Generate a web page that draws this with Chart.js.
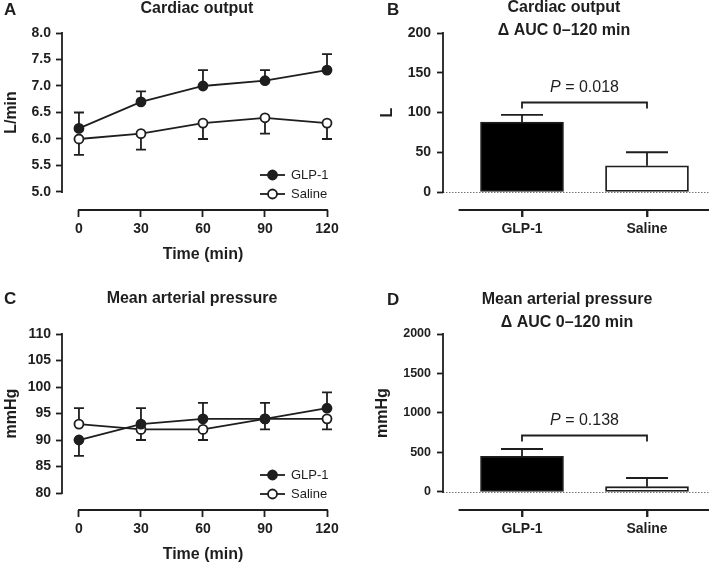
<!DOCTYPE html>
<html>
<head>
<meta charset="utf-8">
<script src="https://cdn.jsdelivr.net/npm/chart.js@4.4.1/dist/chart.umd.min.js"></script>
<style>
  html, body { margin: 0; padding: 0; background: #fff; }
  #wrap { position: relative; width: 709px; height: 564px; }
  canvas { position: absolute; }
</style>
</head>
<body>
<div id="wrap">
  <canvas id="cA" width="355" height="282" style="left:0;top:0"></canvas>
  <canvas id="cB" width="354" height="282" style="left:355px;top:0"></canvas>
  <canvas id="cC" width="355" height="282" style="left:0;top:282px"></canvas>
  <canvas id="cD" width="354" height="282" style="left:355px;top:282px"></canvas>
</div>
<script>
// data
const times = [0, 30, 60, 90, 120];
const groups = ['GLP-1', 'Saline'];

// tick values
const coTicks = [5.0, 5.5, 6.0, 6.5, 7.0, 7.5, 8.0];
const coAucTicks = [0, 50, 100, 150, 200];
const mapTicks = [80, 85, 90, 95, 100, 105, 110];
const mapAucTicks = [0, 500, 1000, 1500, 2000];

// cardiac output (L/min), mean and SEM; dir = which way the error bar is drawn
const coGlp = [6.2, 6.7, 7.0, 7.1, 7.3];
const coGlpSem = [0.3, 0.2, 0.3, 0.2, 0.3];
const coGlpDir = [1, 1, 1, 1, 1];
const coSal = [6.0, 6.1, 6.3, 6.4, 6.3];
const coSalSem = [0.3, 0.3, 0.3, 0.3, 0.3];
const coSalDir = [-1, -1, -1, -1, -1];
const coAuc = [88, 33];
const coAucSem = [9, 17];

// mean arterial pressure (mmHg)
const mapGlp = [90, 93, 94, 94, 96];
const mapGlpSem = [3, 3, 3, 3, 3];
const mapGlpDir = [-1, 1, 1, 1, 1];
const mapSal = [93, 92, 92, 94, 94];
const mapSalSem = [3, 2, 2, 2, 2];
const mapSalDir = [1, -1, -1, -1, -1];
const mapAuc = [452, 67];
const mapAucSem = [92, 110];

const FONT = "'Liberation Sans', Arial, sans-serif";
const INK = '#1e1e1e';

function drawErrors(chart, errors, cap) {
  const ctx = chart.ctx;
  const y = chart.scales.y;
  ctx.save();
  ctx.strokeStyle = INK;
  ctx.lineWidth = 1.8;
  errors.forEach((e, i) => {
    const meta = chart.getDatasetMeta(i);
    const data = chart.data.datasets[i].data;
    data.forEach((d, j) => {
      const px = meta.data[j].x;
      const p0 = y.getPixelForValue(d.y);
      const p1 = y.getPixelForValue(d.y + e.dir[j] * e.sem[j]);
      ctx.beginPath();
      ctx.moveTo(px, p0);
      ctx.lineTo(px, p1);
      ctx.moveTo(px - cap, p1);
      ctx.lineTo(px + cap, p1);
      ctx.stroke();
    });
  });
  ctx.restore();
}

function text(ctx, str, x, y, size, weight, align) {
  ctx.font = weight + ' ' + size + 'px ' + FONT;
  ctx.textAlign = align || 'center';
  ctx.textBaseline = 'middle';
  ctx.fillText(str, x, y);
}

const decor = {
  id: 'decor',
  beforeDatasetsDraw(chart, args, o) {
    const ctx = chart.ctx;
    if (o.zeroLine) {
      const py = Math.round(chart.scales.y.getPixelForValue(0)) + 0.5;
      ctx.save();
      ctx.strokeStyle = '#777';
      ctx.lineWidth = 1;
      ctx.setLineDash([1.5, 1.5]);
      ctx.beginPath();
      ctx.moveTo(chart.chartArea.left, py);
      ctx.lineTo(chart.width, py);
      ctx.stroke();
      ctx.restore();
    }
    if (chart.config.type === 'line') drawErrors(chart, o.errors, 5);
  },
  afterDatasetsDraw(chart, args, o) {
    if (chart.config.type === 'bar') drawErrors(chart, o.errors, 21);
  },
  afterDraw(chart, args, o) {
    const ctx = chart.ctx;
    const {x, y} = chart.scales;
    const area = chart.chartArea;
    ctx.save();
    ctx.strokeStyle = INK;
    ctx.fillStyle = INK;
    ctx.lineWidth = 1.8;
    ctx.lineCap = 'square';

    // truncated axis lines
    const yTop = y.getPixelForValue(o.yAxis[1]);
    const yBot = y.getPixelForValue(o.yAxis[0]);
    ctx.beginPath();
    ctx.moveTo(area.left, yTop);
    ctx.lineTo(area.left, yBot);
    ctx.moveTo(x.getPixelForValue(o.xAxis[0]), area.bottom);
    ctx.lineTo(x.getPixelForValue(o.xAxis[1]), area.bottom);
    ctx.stroke();
    ctx.lineCap = 'butt';

    // category tick marks under the bars
    if (chart.config.type === 'bar') {
      ctx.beginPath();
      x.ticks.forEach((t, i) => {
        const px = x.getPixelForTick(i);
        ctx.moveTo(px, area.bottom);
        ctx.lineTo(px, area.bottom + 7);
      });
      ctx.stroke();
    }

    // panel letter and title
    text(ctx, o.letter, o.letterX, o.letterY, 17, 'bold', 'left');
    o.title.forEach((t, i) => text(ctx, t, o.titleX, o.titleY + i * 23, 16, 'bold'));

    // axis titles
    ctx.save();
    ctx.translate(o.yTitleX, (yTop + yBot) / 2);
    ctx.rotate(-Math.PI / 2);
    text(ctx, o.yTitle, 0, 0, 16, 'bold');
    ctx.restore();
    if (o.xTitle) {
      const cx = (x.getPixelForValue(o.xAxis[0]) + x.getPixelForValue(o.xAxis[1])) / 2;
      text(ctx, o.xTitle, cx, area.bottom + 45, 16, 'bold');
    }

    // legend: line + marker, styled from the datasets
    if (o.legend) {
      chart.data.datasets.forEach((ds, i) => {
        const ly = area.bottom - 35 + i * 19;
        const lx = area.right - 67;
        ctx.lineWidth = 1.8;
        ctx.beginPath();
        ctx.moveTo(lx, ly);
        ctx.lineTo(lx + 25, ly);
        ctx.stroke();
        ctx.beginPath();
        ctx.arc(lx + 12.5, ly, 4.5, 0, Math.PI * 2);
        ctx.fillStyle = ds.pointBackgroundColor;
        ctx.fill();
        ctx.stroke();
        ctx.fillStyle = INK;
        text(ctx, ds.label, lx + 31, ly, 13, 'normal', 'left');
      });
    }

    // significance bracket
    if (o.bracket) {
      const b = o.bracket;
      const x0 = x.getPixelForValue(0);
      const x1 = x.getPixelForValue(1);
      const by = Math.round(y.getPixelForValue(b.at)) + 0.5;
      ctx.lineWidth = 1.8;
      ctx.beginPath();
      ctx.moveTo(x0, by + 6);
      ctx.lineTo(x0, by);
      ctx.lineTo(x1, by);
      ctx.lineTo(x1, by + 6);
      ctx.stroke();
      const rest = ' = ' + b.p;
      ctx.font = 'italic 16px ' + FONT;
      const wP = ctx.measureText('P').width;
      ctx.font = '16px ' + FONT;
      const wR = ctx.measureText(rest).width;
      const sx = (x0 + x1) / 2 - (wP + wR) / 2;
      text(ctx, 'P', sx, by - 15, 16, 'italic', 'left');
      text(ctx, rest, sx + wP, by - 15, 16, 'normal', 'left');
    }
    ctx.restore();
  }
};

function tickFont(size) {
  return { family: FONT, size: size, weight: 'bold' };
}

function grid(len) {
  return { offset: false, drawOnChartArea: false, drawTicks: true, tickLength: len, tickColor: INK, tickWidth: 1.8 };
}

function fixedTicks(values) {
  return s => { s.ticks = values.map(v => ({ value: v })); };
}

function baseOptions(canvas, box, xScale, yScale, decorOpts) {
  return {
    responsive: false,
    animation: false,
    events: [],
    layout: { padding: { left: 0, top: box.top, right: canvas.width - box.right, bottom: 0 } },
    plugins: { legend: { display: false }, tooltip: { enabled: false }, decor: decorOpts },
    scales: {
      x: Object.assign({
        type: 'linear',
        offset: false,
        border: { display: false },
        grid: grid(7),
        afterFit: s => { s.height = canvas.height - box.bottom; }
      }, xScale),
      y: Object.assign({
        type: 'linear',
        border: { display: false },
        grid: grid(6),
        afterFit: s => { s.width = box.left; }
      }, yScale)
    }
  };
}

function lineChart(id, box, series, yScale, decorOpts) {
  const canvas = document.getElementById(id);
  const fills = [INK, '#ffffff'];
  return new Chart(canvas, {
    type: 'line',
    data: {
      datasets: series.map((s, i) => ({
        label: groups[i],
        data: times.map((t, j) => ({ x: t, y: s[j] })),
        borderColor: INK,
        borderWidth: 1.8,
        pointBackgroundColor: fills[i],
        pointBorderColor: INK,
        pointBorderWidth: 1.8,
        pointRadius: 4.5,
        tension: 0,
        clip: false
      }))
    },
    options: baseOptions(canvas, box,
      { min: -8.2, max: 120, afterBuildTicks: fixedTicks(times),
        ticks: { font: tickFont(14), color: INK, padding: 4, maxRotation: 0, autoSkip: false, callback: v => String(v) } },
      yScale, decorOpts),
    plugins: [decor]
  });
}

function barChart(id, box, values, yScale, decorOpts) {
  const canvas = document.getElementById(id);
  return new Chart(canvas, {
    type: 'bar',
    data: {
      datasets: [{
        data: groups.map((g, i) => ({ x: i, y: values[i] })),
        backgroundColor: ['#000000', '#ffffff'],
        borderColor: INK,
        borderWidth: 1.8,
        borderSkipped: false,
        barThickness: 83
      }]
    },
    options: baseOptions(canvas, box,
      { min: -0.632, max: 1.496, afterBuildTicks: fixedTicks(groups.map((g, i) => i)),
        ticks: { font: tickFont(14), color: INK, padding: 4, maxRotation: 0, autoSkip: false, callback: v => groups[v] || '' } },
      yScale, decorOpts),
    plugins: [decor]
  });
}

lineChart('cA', { left: 62, top: 33, right: 327, bottom: 210 }, [coGlp, coSal],
  { min: 4.66, max: 8, afterBuildTicks: fixedTicks(coTicks),
    ticks: { font: tickFont(14), color: INK, padding: 5, callback: v => v.toFixed(1) } },
  {
    errors: [{ sem: coGlpSem, dir: coGlpDir }, { sem: coSalSem, dir: coSalDir }],
    yAxis: [5, 8], xAxis: [0, 120],
    letter: 'A', letterX: 4, letterY: 10,
    title: ['Cardiac output'], titleX: 197, titleY: 9,
    yTitle: 'L/min', yTitleX: 12, xTitle: 'Time (min)', legend: true
  });

barChart('cB', { left: 88, top: 33, right: 354, bottom: 210 }, coAuc,
  { min: -22.6, max: 200, afterBuildTicks: fixedTicks(coAucTicks),
    ticks: { font: tickFont(14), color: INK, padding: 6, callback: v => String(v) } },
  {
    errors: [{ sem: coAucSem, dir: [1, 1] }],
    yAxis: [0, 200], xAxis: [-0.5, 1.5], zeroLine: true,
    letter: 'B', letterX: 32, letterY: 10,
    title: ['Cardiac output', '\u0394 AUC 0\u2013120 min'], titleX: 209, titleY: 8,
    yTitle: 'L', yTitleX: 33,
    bracket: { at: 113, p: '0.018' }
  });

lineChart('cC', { left: 62, top: 52, right: 327, bottom: 228 }, [mapGlp, mapSal],
  { min: 76.8, max: 110, afterBuildTicks: fixedTicks(mapTicks),
    ticks: { font: tickFont(14), color: INK, padding: 5, callback: v => String(v) } },
  {
    errors: [{ sem: mapGlpSem, dir: mapGlpDir }, { sem: mapSalSem, dir: mapSalDir }],
    yAxis: [80, 110], xAxis: [0, 120],
    letter: 'C', letterX: 4, letterY: 17,
    title: ['Mean arterial pressure'], titleX: 192, titleY: 17,
    yTitle: 'mmHg', yTitleX: 12, xTitle: 'Time (min)', legend: true
  });

barChart('cD', { left: 88, top: 52, right: 354, bottom: 228 }, mapAuc,
  { min: -228, max: 2000, afterBuildTicks: fixedTicks(mapAucTicks),
    ticks: { font: tickFont(12.5), color: INK, padding: 6, callback: v => String(v) } },
  {
    errors: [{ sem: mapAucSem, dir: [1, 1] }],
    yAxis: [0, 2000], xAxis: [-0.5, 1.5], zeroLine: true,
    letter: 'D', letterX: 32, letterY: 18,
    title: ['Mean arterial pressure', '\u0394 AUC 0\u2013120 min'], titleX: 212, titleY: 18,
    yTitle: 'mmHg', yTitleX: 28,
    bracket: { at: 722, p: '0.138' }
  });
</script>
</body>
</html>
